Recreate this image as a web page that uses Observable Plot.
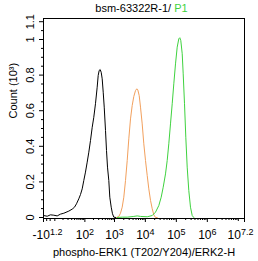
<!DOCTYPE html>
<html>
<head>
<meta charset="utf-8">
<script src="https://cdn.jsdelivr.net/npm/d3@7"></script>
<script src="https://cdn.jsdelivr.net/npm/@observablehq/plot@0.6"></script>
<style>
  html, body { margin: 0; padding: 0; background: #fff; }
  #chart { width: 258px; height: 261px; position: relative; }
  svg { font-family: "Liberation Sans", Arial, sans-serif; }
</style>
</head>
<body>
<div id="chart"></div>
<script>
// ---- data (intensity on x, count in thousands on y) ----
const titleMain = "bsm-63322R-1/ ";
const titleGate = "P1";
const xLabel = "phospho-ERK1 (T202/Y204)/ERK2-H";
const yLabel = "Count (10³)";

const controlX = [-15.2, -9.2, -4.6, -1.0, 2.3, 6.3, 11.4, 21.9, 31.6, 39.8, 48, 59.2, 68.8, 79.7, 91.3, 105, 121, 138, 158, 181, 205, 234, 267, 289, 312, 337, 364, 393, 425, 459, 506, 546, 589, 650, 701, 780, 859, 948, 1103];
const controlY = [0.011, 0.007, 0.015, 0.013, 0.009, 0.019, 0.024, 0.036, 0.047, 0.058, 0.077, 0.105, 0.129, 0.161, 0.208, 0.255, 0.311, 0.367, 0.433, 0.507, 0.563, 0.639, 0.732, 0.798, 0.826, 0.831, 0.816, 0.779, 0.704, 0.620, 0.489, 0.376, 0.283, 0.208, 0.114, 0.058, 0.021, 0.002, 0];

const isotypeX = [1162, 1381, 1567, 1780, 2006, 2278, 2587, 2916, 3310, 3755, 4232, 4806, 5291, 5700, 6325, 6971, 7908, 8908, 10116, 11478, 12930, 14680, 16660, 18750, 21290, 24150];
const isotypeY = [0, 0.006, 0.024, 0.058, 0.114, 0.208, 0.320, 0.442, 0.554, 0.629, 0.680, 0.713, 0.723, 0.717, 0.685, 0.620, 0.526, 0.414, 0.320, 0.236, 0.161, 0.096, 0.049, 0.015, 0, 0];

const sampleX = [1224, 1780, 2587, 4232, 5453, 6971, 11478, 16660, 21290, 27190, 32480, 37700, 44740, 50750, 57160, 64840, 73610, 82910, 94070, 106700, 120170, 129400, 139430, 154790, 166650, 183660, 202140, 224320, 252510, 286610, 325360, 366330];
const sampleY = [0, 0.002, 0.002, 0.006, 0.009, 0.006, 0.004, 0.011, 0.030, 0.067, 0.114, 0.170, 0.245, 0.320, 0.414, 0.526, 0.639, 0.751, 0.863, 0.957, 1.004, 1.010, 0.994, 0.920, 0.807, 0.639, 0.451, 0.283, 0.152, 0.058, 0.011, 0];

const xMajorTicks = [-15.85, 100, 1000, 10000, 100000, 1000000, 15848932];
const xMajorLabels = ["-10^1.2", "10^2", "10^3", "10^4", "10^5", "10^6", "10^7.2"];
const xNearZeroTicks = [-10, -5, 0, 10000000];
const yMajorTicks = [0, 0.2, 0.4, 0.6, 0.8, 1, 1.1];
const yMajorLabels = ["0", "0.2", "0.4", "0.6", "0.8", "1", "1.1"];

const colors = {control: "#000000", isotype: "#f2a05d", sample: "#3fd23f"};

// ---- build ----
const toRows = (xs, ys) => xs.map((x, i) => ({x, y: ys[i]}));
const control = toRows(controlX, controlY);
const isotype = toRows(isotypeX, isotypeY);
const sample = toRows(sampleX, sampleY);

const xMinorTicks = [];
for (let e = 1; e <= 6; e++) for (let m = (e === 1 ? 1 : 2); m <= 9; m++) xMinorTicks.push(m * 10 ** e);
const yMinorTicks = d3.range(0.05, 1.06, 0.05).filter(v => Math.abs(v * 5 - Math.round(v * 5)) > 1e-6);

const labelOf = new Map(xMajorTicks.map((t, i) => [t, xMajorLabels[i]]));
const yLabelOf = new Map(yMajorTicks.map((t, i) => [t, yMajorLabels[i]]));

const svg = Plot.plot({
  width: 258,
  height: 261,
  marginLeft: 43,
  marginRight: 14,
  marginTop: 18,
  marginBottom: 43,
  style: {fontFamily: "Liberation Sans, Arial, sans-serif", fontSize: "11px", background: "#fff"},
  x: {type: "symlog", constant: 12, domain: [-15.85, 15848932], axis: null},
  y: {domain: [-0.0056, 1.118], axis: null},
  marks: [
    Plot.line(control, {x: "x", y: "y", stroke: colors.control, strokeWidth: 1}),
    Plot.line(isotype, {x: "x", y: "y", stroke: colors.isotype, strokeWidth: 1}),
    Plot.line(sample, {x: "x", y: "y", stroke: colors.sample, strokeWidth: 1}),
    Plot.frame({stroke: "#000", strokeWidth: 1}),
    Plot.axisX({ticks: xMinorTicks, tickSize: 2, text: null, label: null, stroke: "#000"}),
    Plot.axisX({ticks: xNearZeroTicks, tickSize: 3, text: null, label: null, stroke: "#000"}),
    Plot.axisX({ticks: xMajorTicks, tickSize: 4, tickPadding: 8, label: null, tickFormat: d => labelOf.get(d), fontSize: 12, fill: "#000", stroke: "#000"}),
    Plot.axisY({ticks: yMinorTicks, tickSize: 2, text: null, label: null, stroke: "#000"}),
    Plot.axisY({ticks: yMajorTicks, tickSize: 4, text: null, label: null, stroke: "#000"}),
    Plot.text(yMajorTicks, {y: d => d, text: d => yLabelOf.get(d), frameAnchor: "left", dx: -13, rotate: -90, textAnchor: "middle", lineAnchor: "middle", fontSize: 11, fill: "#000"}),
    Plot.text([xLabel], {text: d => d, frameAnchor: "bottom", dy: 34, lineAnchor: "middle", fontSize: 11, fill: "#000"}),
    Plot.text([yLabel], {text: d => d, frameAnchor: "left", dx: -30, rotate: -90, lineAnchor: "middle", fontSize: 11, fill: "#000"})
  ]
});

// superscript exponents on the x tick labels
const s = d3.select(svg);
s.selectAll('g[aria-label="x-axis tick label"] text').each(function () {
  const str = this.textContent;
  const [base, exp] = str.split("^");
  const t = d3.select(this);
  t.text(null);
  const b = t.append("tspan").text(base);
  if (str === xMajorLabels[0]) b.attr("dx", 4);
  if (str === xMajorLabels[xMajorLabels.length - 1]) b.attr("dx", -4);
  t.append("tspan").attr("dy", "-0.45em").attr("font-size", "9px").text(exp);
});

// two-colour title
const title = s.append("text")
  .attr("x", 141.5).attr("y", 11.5)
  .attr("text-anchor", "middle")
  .attr("font-size", 11)
  .attr("fill", "#000");
title.append("tspan").text(titleMain);
title.append("tspan").attr("fill", colors.sample).text(titleGate);

document.getElementById("chart").appendChild(svg);
</script>
</body>
</html>
